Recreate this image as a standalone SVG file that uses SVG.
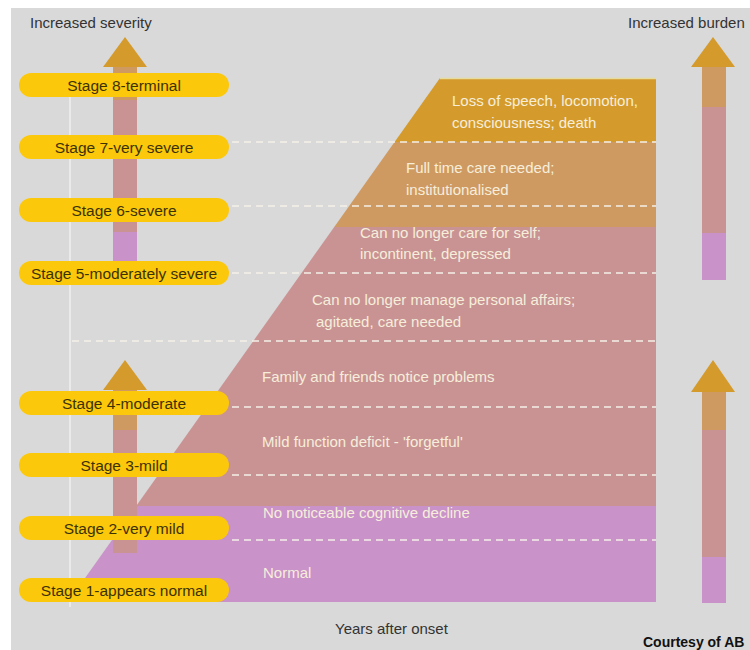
<svg xmlns="http://www.w3.org/2000/svg" width="750" height="650" viewBox="0 0 750 650">
  <defs>
    <style>
      .pill { fill: #fcc80c; }
      .pilltxt { font-family: "Liberation Sans", Arial, sans-serif; font-size: 15.5px; fill: #3b3200; text-anchor: middle; }
      .rtxt { font-family: "Liberation Sans", Arial, sans-serif; font-size: 15px; fill: #f6eedb; }
      .lbl { font-family: "Liberation Sans", Arial, sans-serif; font-size: 15px; fill: #333333; }
      .dash { stroke: #f5efe8; stroke-width: 1.5; stroke-dasharray: 7 5; fill: none; }
      .head { fill: #d49b2c; }
      .c-gold { fill: #d49b2c; }
      .c-tan { fill: #cf9a62; }
      .c-pink { fill: #c99393; }
      .c-purple { fill: #c992c9; }
    </style>
    <clipPath id="trap">
      <polygon points="440,78 656,78 656,602 68,602"/>
    </clipPath>
  </defs>

  <rect x="0" y="0" width="750" height="650" fill="#ffffff"/>
  <rect x="11" y="8" width="739" height="642" fill="#d9d9d9"/>

  <!-- vertical guide line -->
  <line x1="70" y1="97" x2="70" y2="607" stroke="#efefef" stroke-width="1.5"/>

  <!-- main stepped area -->
  <g id="burden-area" clip-path="url(#trap)">
    <rect class="c-gold" x="60" y="78" width="600" height="64"/>
    <rect class="c-tan" x="60" y="142" width="600" height="85"/>
    <rect class="c-pink" x="60" y="227" width="600" height="279"/>
    <rect class="c-purple" x="60" y="506" width="600" height="96"/>
  </g>
  <line x1="440" y1="78.5" x2="656" y2="78.5" stroke="#e6dc9c" stroke-width="1.5"/>

  <!-- dashed guide lines -->
  <g id="connectors">
    <line class="dash" x1="232" y1="142" x2="656" y2="142"/>
    <line class="dash" x1="232" y1="206" x2="656" y2="206"/>
    <line class="dash" x1="232" y1="273" x2="656" y2="273"/>
    <line class="dash" x1="72" y1="341" x2="656" y2="341"/>
    <line class="dash" x1="232" y1="407" x2="656" y2="407"/>
    <line class="dash" x1="232" y1="475" x2="656" y2="475"/>
    <line class="dash" x1="232" y1="540" x2="656" y2="540"/>
  </g>

  <!-- region texts -->
  <g id="region-texts">
    <text class="rtxt" x="452" y="106">Loss of speech, locomotion,</text>
    <text class="rtxt" x="452" y="128">consciousness; death</text>
    <text class="rtxt" x="406" y="173">Full time care needed;</text>
    <text class="rtxt" x="406" y="195">institutionalised</text>
    <text class="rtxt" x="360" y="238">Can no longer care for self;</text>
    <text class="rtxt" x="360" y="259">incontinent, depressed</text>
    <text class="rtxt" x="312" y="305">Can no longer manage personal affairs;</text>
    <text class="rtxt" x="316" y="327">agitated, care needed</text>
    <text class="rtxt" x="262" y="382">Family and friends notice problems</text>
    <text class="rtxt" x="262" y="447">Mild function deficit - 'forgetful'</text>
    <text class="rtxt" x="263" y="518">No noticeable cognitive decline</text>
    <text class="rtxt" x="263" y="578">Normal</text>
  </g>

  <!-- severity arrows (left) -->
  <g id="severity-arrow-upper">
    <rect class="c-tan" x="113" y="66" width="24" height="34"/>
    <rect class="c-pink" x="113" y="100" width="24" height="132"/>
    <rect class="c-purple" x="113" y="232" width="24" height="30"/>
    <polygon class="head" points="125,37 147,67 103,67"/>
  </g>
  <g id="severity-arrow-lower">
    <rect class="c-tan" x="113" y="389" width="24" height="41"/>
    <rect class="c-pink" x="113" y="430" width="24" height="123"/>
    <polygon class="head" points="125,360 147,390 103,390"/>
  </g>

  <!-- burden arrows (right) -->
  <g id="burden-arrow-upper">
    <rect class="c-tan" x="702" y="66" width="24" height="41"/>
    <rect class="c-pink" x="702" y="107" width="24" height="126"/>
    <rect class="c-purple" x="702" y="233" width="24" height="47"/>
    <polygon class="head" points="713,37 735,67 691,67"/>
  </g>
  <g id="burden-arrow-lower">
    <rect class="c-tan" x="702" y="391" width="24" height="39"/>
    <rect class="c-pink" x="702" y="430" width="24" height="127"/>
    <rect class="c-purple" x="702" y="557" width="24" height="46"/>
    <polygon class="head" points="713,360 735,392 691,392"/>
  </g>

  <!-- stage pills -->
  <g id="stage8"><rect class="pill" x="19" y="73" width="210" height="24" rx="12"/><text class="pilltxt" x="124" y="90.5">Stage 8-terminal</text></g>
  <g id="stage7"><rect class="pill" x="19" y="135" width="210" height="24" rx="12"/><text class="pilltxt" x="124" y="152.5">Stage 7-very severe</text></g>
  <g id="stage6"><rect class="pill" x="19" y="198" width="210" height="24" rx="12"/><text class="pilltxt" x="124" y="215.5">Stage 6-severe</text></g>
  <g id="stage5"><rect class="pill" x="19" y="261" width="210" height="24" rx="12"/><text class="pilltxt" x="124" y="278.5">Stage 5-moderately severe</text></g>
  <g id="stage4"><rect class="pill" x="19" y="391" width="210" height="24" rx="12"/><text class="pilltxt" x="124" y="408.5">Stage 4-moderate</text></g>
  <g id="stage3"><rect class="pill" x="19" y="453" width="210" height="24" rx="12"/><text class="pilltxt" x="124" y="470.5">Stage 3-mild</text></g>
  <g id="stage2"><rect class="pill" x="19" y="516" width="210" height="24" rx="12"/><text class="pilltxt" x="124" y="533.5">Stage 2-very mild</text></g>
  <g id="stage1"><rect class="pill" x="19" y="578" width="210" height="24" rx="12"/><text class="pilltxt" x="124" y="595.5">Stage 1-appears normal</text></g>

  <!-- labels -->
  <text class="lbl" x="30" y="28">Increased severity</text>
  <text class="lbl" x="628" y="28">Increased burden</text>
  <text class="lbl" x="335" y="634">Years after onset</text>
  <text x="643" y="647" font-family="'Liberation Sans', Arial, sans-serif" font-size="14" font-weight="bold" fill="#111111">Courtesy of AB</text>
</svg>
